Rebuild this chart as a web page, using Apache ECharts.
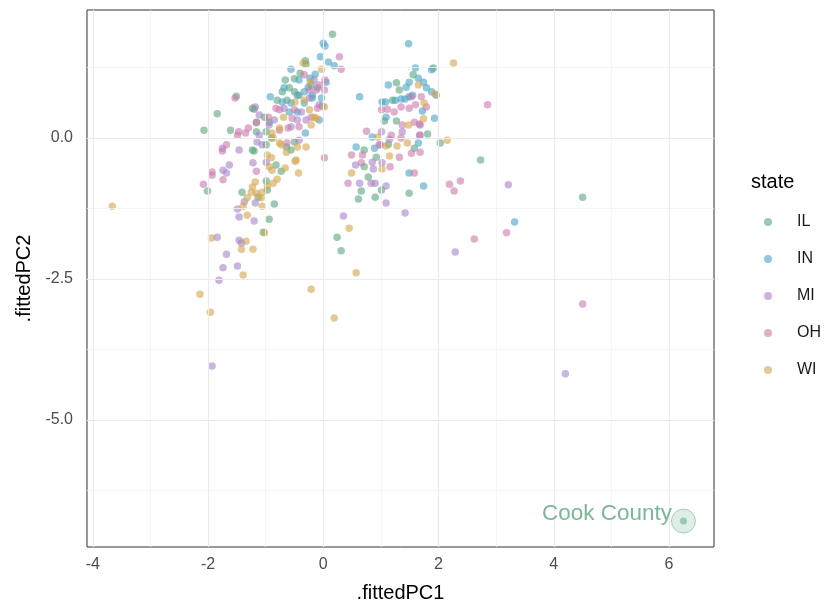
<!DOCTYPE html>
<html>
<head>
<meta charset="UTF-8">
<title>fittedPC1 vs fittedPC2</title>
<script src="https://cdn.jsdelivr.net/npm/echarts@6/dist/echarts.min.js"></script>
<style>
  html, body { margin: 0; padding: 0; background: #fff; }
  #main { width: 827px; height: 602px; }
</style>
</head>
<body>
<div id="main"></div>
<script>
// states, in legend order
var states = ['IL', 'IN', 'MI', 'OH', 'WI'];

// points: [fittedPC1, fittedPC2]
var ilPts = [
  [-2.07, 0.14], [-2.01, -0.94], [-1.84, 0.43], [-1.51, 0.74], [-1.61, 0.14], [0.16, 1.84],
  [-0.31, 1.37], [-0.40, 1.15], [-0.66, 1.03], [-0.50, 1.05], [-0.71, 0.82], [-0.63, 0.67],
  [-1.20, 0.51], [-1.02, 0.37], [-1.16, 0.11], [-0.99, -0.12], [-0.64, -0.16], [-0.50, -0.07],
  [-1.20, -0.23], [-0.82, -0.48], [-0.73, -0.59], [-1.41, -0.96], [-0.97, -0.92], [-1.13, -1.05],
  [-0.85, -1.17], [-0.94, -1.44], [-1.04, -1.67], [-1.23, 0.53], [-1.16, 0.28], [-0.94, 0.28],
  [-0.90, 0.00], [-1.23, -0.21], [-0.56, -0.21], [-0.99, 0.11], [1.56, 1.12], [1.91, 1.24],
  [1.27, 0.98], [1.20, 0.67], [1.06, 0.30], [1.27, 0.30], [1.81, 0.07], [2.03, -0.09],
  [1.58, -0.18], [0.92, -0.34], [0.71, -0.51], [0.78, -0.69], [0.66, -0.94], [0.61, -1.08],
  [1.01, -0.92], [0.90, -1.05], [1.49, -0.98], [1.13, -0.11], [0.24, -1.76], [0.31, -2.00],
  [2.73, -0.39], [4.50, -1.05], [-0.30, 1.31], [-0.99, -0.76], [-0.59, 0.89], [-0.42, 0.76],
  [-0.21, 0.94], [-0.80, 0.67], [-0.50, 0.82], [1.32, 0.85], [0.71, -0.21]
];
var inPts = [
  [0.00, 1.68], [0.03, 1.63], [-0.05, 1.44], [-0.56, 1.22], [-0.14, 1.13], [-0.26, 0.90],
  [-0.92, 0.73], [-0.71, 0.64], [-0.33, 0.62], [-0.19, 0.76], [-0.59, 0.46], [-0.31, 0.09],
  [-0.02, 0.57], [0.09, 1.35], [0.19, 1.28], [0.05, 0.99], [0.63, 0.73], [1.48, 1.67],
  [1.60, 1.24], [1.88, 1.21], [1.65, 1.06], [1.74, 0.99], [1.49, 0.99], [1.13, 0.94],
  [1.44, 0.90], [1.79, 0.89], [1.88, 0.82], [1.96, 0.76], [1.55, 0.76], [1.49, 0.73],
  [1.42, 0.69], [1.35, 0.69], [1.25, 0.67], [1.08, 0.64], [1.02, 0.64], [1.72, 0.48],
  [1.09, 0.37], [1.93, 0.35], [0.85, 0.02], [0.57, -0.16], [0.89, -0.18], [1.49, -0.62],
  [1.74, -0.85], [3.32, -1.49], [1.65, -0.09], [-0.56, 0.62], [-0.19, 0.71], [-0.03, 0.71],
  [-0.42, 1.03], [-0.10, 0.89], [-0.45, 0.76], [-0.23, 1.06], [-0.33, 0.82], [-0.68, 0.89],
  [-0.07, 0.32], [-0.45, 0.46]
];
var miPts = [
  [-0.07, 0.59], [-1.18, 0.55], [-1.11, 0.41], [-0.30, 0.32], [-0.56, 0.20], [-0.94, 0.23],
  [-1.11, 0.05], [-1.15, -0.07], [-1.75, -0.18], [-1.46, -0.21], [-1.63, -0.48], [-1.22, -0.44],
  [-1.74, -0.57], [-1.68, -0.62], [-0.99, -0.43], [-1.37, -1.13], [-1.18, -1.15], [-1.49, -1.26],
  [-1.46, -1.40], [-1.20, -1.47], [-1.84, -1.76], [-1.46, -1.81], [-1.42, -1.86], [-1.68, -2.06],
  [-1.74, -2.30], [-1.49, -2.27], [-1.81, -2.52], [-1.93, -4.04], [-0.38, 0.46], [-0.45, 0.32],
  [-0.85, 0.32], [-1.06, -0.12], [1.01, 0.11], [1.37, 0.11], [1.15, -0.02], [1.68, 0.23],
  [0.97, -0.12], [0.56, -0.48], [0.85, -0.43], [0.87, -0.55], [1.02, -0.44], [0.63, -0.80],
  [0.83, -0.80], [0.90, -0.80], [1.09, -0.85], [1.09, -1.15], [0.35, -1.38], [1.42, -1.33],
  [2.29, -2.02], [3.21, -0.83], [4.20, -4.18], [1.68, 0.05], [-0.24, 0.71], [-0.68, 0.53],
  [-0.16, 1.03], [-0.42, -0.04]
];
var ohPts = [
  [-0.07, 0.94], [0.03, 1.03], [-0.12, 0.85], [-0.82, 0.53], [-0.76, 0.50], [-0.95, 0.37],
  [-0.54, 0.35], [-0.42, 0.20], [-0.76, 0.14], [-1.16, 0.27], [-1.30, 0.18], [-1.35, 0.09],
  [-1.49, 0.05], [-1.47, 0.11], [-1.68, -0.12], [0.02, -0.35], [-1.75, -0.23], [-1.93, -0.60],
  [-1.93, -0.66], [-1.74, -0.74], [-2.08, -0.82], [-1.16, -0.59], [0.28, 1.44], [0.31, 1.22],
  [0.02, 0.85], [1.53, 0.73], [1.70, 0.73], [1.79, 0.55], [1.60, 0.59], [1.49, 0.53],
  [1.35, 0.55], [1.23, 0.46], [1.11, 0.51], [1.01, 0.50], [1.37, 0.23], [1.58, 0.28],
  [1.67, 0.25], [0.75, 0.12], [1.18, 0.05], [1.35, 0.00], [1.67, 0.05], [0.49, -0.30],
  [0.68, -0.30], [1.32, -0.34], [1.53, -0.27], [1.68, -0.25], [0.66, -0.44], [1.16, -0.51],
  [0.43, -0.80], [1.58, -0.62], [2.19, -0.82], [2.38, -0.76], [2.27, -0.94], [2.85, 0.59],
  [2.62, -1.79], [3.18, -1.68], [4.50, -2.94], [0.99, -0.12], [-0.50, 0.50], [-0.10, 0.53],
  [-0.21, 0.37], [-0.61, 0.18], [-0.63, -0.09], [-1.53, 0.71], [-0.24, 0.85], [-0.33, 1.12]
];
var wiPts = [
  [-0.35, 1.33], [-0.03, 1.22], [-0.23, 0.99], [-0.49, 0.64], [-0.24, 0.50], [-0.16, 0.37],
  [-0.21, 0.23], [-0.69, 0.37], [-0.89, 0.09], [-0.87, 0.00], [-0.76, -0.09], [-0.30, -0.16],
  [-0.45, -0.16], [-0.97, -0.30], [-0.64, -0.25], [-0.94, -0.51], [-0.66, -0.53], [-0.49, -0.41],
  [-0.43, -0.62], [-0.80, -0.73], [-0.87, -0.80], [-0.97, -0.85], [-1.18, -0.78], [-1.23, -0.87],
  [-1.25, -0.96], [-1.06, -0.96], [-1.16, -0.98], [-1.32, -1.06], [-1.39, -1.21], [-1.08, -1.06],
  [-1.06, -1.21], [-1.32, -1.37], [-1.02, -1.68], [-1.94, -1.77], [-1.34, -1.83], [-1.42, -1.97],
  [-1.22, -1.97], [-1.39, -2.43], [-2.14, -2.77], [-1.96, -3.09], [-3.66, -1.21], [-0.21, -2.68],
  [0.19, -3.19], [0.57, -2.39], [0.45, -1.60], [2.26, 1.33], [1.65, 0.94], [1.94, 0.78],
  [1.75, 0.62], [1.48, 0.23], [1.74, 0.34], [0.95, 0.02], [1.46, -0.09], [2.15, -0.04],
  [1.09, -0.14], [1.15, -0.32], [1.02, -0.55], [0.49, -0.62], [-0.47, -0.39], [-0.90, -0.35],
  [-0.89, -0.57], [-0.73, -0.12], [-0.33, 0.67], [-0.12, 0.35], [0.02, 0.55], [-0.76, 0.18],
  [1.28, -0.14]
];
// the labelled outlier (an IL county)
var cookPts = [[6.25, -6.79]];
var cookName = 'Cook County';

// tick labels and grid lines
var xMajor = [-4, -2, 0, 2, 4, 6];
var xMinor = [-3, -1, 1, 3, 5];
var yMajor = [0, -2.5, -5];
var yMinor = [1.25, -1.25, -3.75, -6.25];

var stateData = [ilPts, inPts, miPts, ohPts, wiPts];
var colors = ['#5aa57c', '#4aa3c4', '#a584c6', '#cc7aab', '#d4a54c'];

function lineData(xs, ys) {
  var d = [];
  xs.forEach(function (v) { d.push({ xAxis: v }); });
  ys.forEach(function (v) { d.push({ yAxis: v }); });
  return d;
}

var series = [
  // minor grid
  {
    type: 'scatter', data: [], silent: true, z: 1,
    markLine: {
      silent: true, symbol: ['none', 'none'], label: { show: false }, animation: false,
      lineStyle: { color: '#f3f3f3', width: 0.8, type: 'solid' },
      data: lineData(xMinor, yMinor)
    }
  },
  // major grid
  {
    type: 'scatter', data: [], silent: true, z: 1,
    markLine: {
      silent: true, symbol: ['none', 'none'], label: { show: false }, animation: false,
      lineStyle: { color: '#ebebeb', width: 1.2, type: 'solid' },
      data: lineData(xMajor, yMajor)
    }
  }
];

states.forEach(function (s, i) {
  series.push({
    name: s,
    type: 'scatter',
    z: 3,
    symbolSize: 7.5,
    itemStyle: { color: colors[i], opacity: 0.6 },
    data: stateData[i]
  });
});

// halo around Cook County
series.push({
  name: 'cookHalo', type: 'scatter', z: 4, symbolSize: 24, silent: true,
  itemStyle: { color: 'rgba(90,165,124,0.25)', borderColor: 'rgba(90,165,124,0.6)', borderWidth: 1 },
  data: cookPts
});
series.push({
  name: 'cook', type: 'scatter', z: 5, symbolSize: 7,
  itemStyle: { color: 'rgba(90,165,124,0.65)' },
  label: {
    show: true, position: 'left', distance: 8, offset: [0, -7],
    formatter: cookName, fontSize: 22.5, color: colors[0]
  },
  data: cookPts
});

var chart = echarts.init(document.getElementById('main'));
chart.setOption({
  animation: false,
  backgroundColor: '#fff',
  textStyle: { fontFamily: 'Liberation Sans, Arial, sans-serif' },
  title: {
    text: 'state', left: 746, top: 167,
    textStyle: { fontSize: 20, fontWeight: 'normal', color: '#000' }
  },
  legend: {
    data: states,
    orient: 'vertical',
    left: 759, top: 208,
    itemWidth: 8, itemHeight: 8, itemGap: 19,
    icon: 'circle',
    textStyle: { fontSize: 16, color: '#1a1a1a', lineHeight: 18, padding: [0, 0, 0, 20] }
  },
  grid: {
    left: 87, top: 10, width: 627, height: 537,
    outerBoundsMode: 'none',
    show: true, borderColor: '#333333', borderWidth: 1, backgroundColor: '#fff'
  },
  xAxis: {
    type: 'value', min: -4.10, max: 6.78,
    name: '.fittedPC1', nameLocation: 'middle', nameGap: 36,
    nameTextStyle: { fontSize: 20, color: '#000' },
    axisLine: { show: false },
    axisTick: { show: true, length: 5, lineStyle: { color: '#333' }, customValues: xMajor },
    axisLabel: { color: '#4d4d4d', fontSize: 16, margin: 10, customValues: xMajor,
      formatter: function (v) { return String(v); } },
    splitLine: { show: false }
  },
  yAxis: {
    type: 'value', min: -7.25, max: 2.27,
    name: '.fittedPC2', nameLocation: 'middle', nameGap: 52, nameRotate: 90,
    nameTextStyle: { fontSize: 20, color: '#000' },
    axisLine: { show: false },
    axisTick: { show: true, length: 5, lineStyle: { color: '#333' }, customValues: yMajor },
    axisLabel: { color: '#4d4d4d', fontSize: 16, margin: 14, customValues: yMajor,
      formatter: function (v) { return v.toFixed(1); } },
    splitLine: { show: false }
  },
  series: series
});
</script>
</body>
</html>
